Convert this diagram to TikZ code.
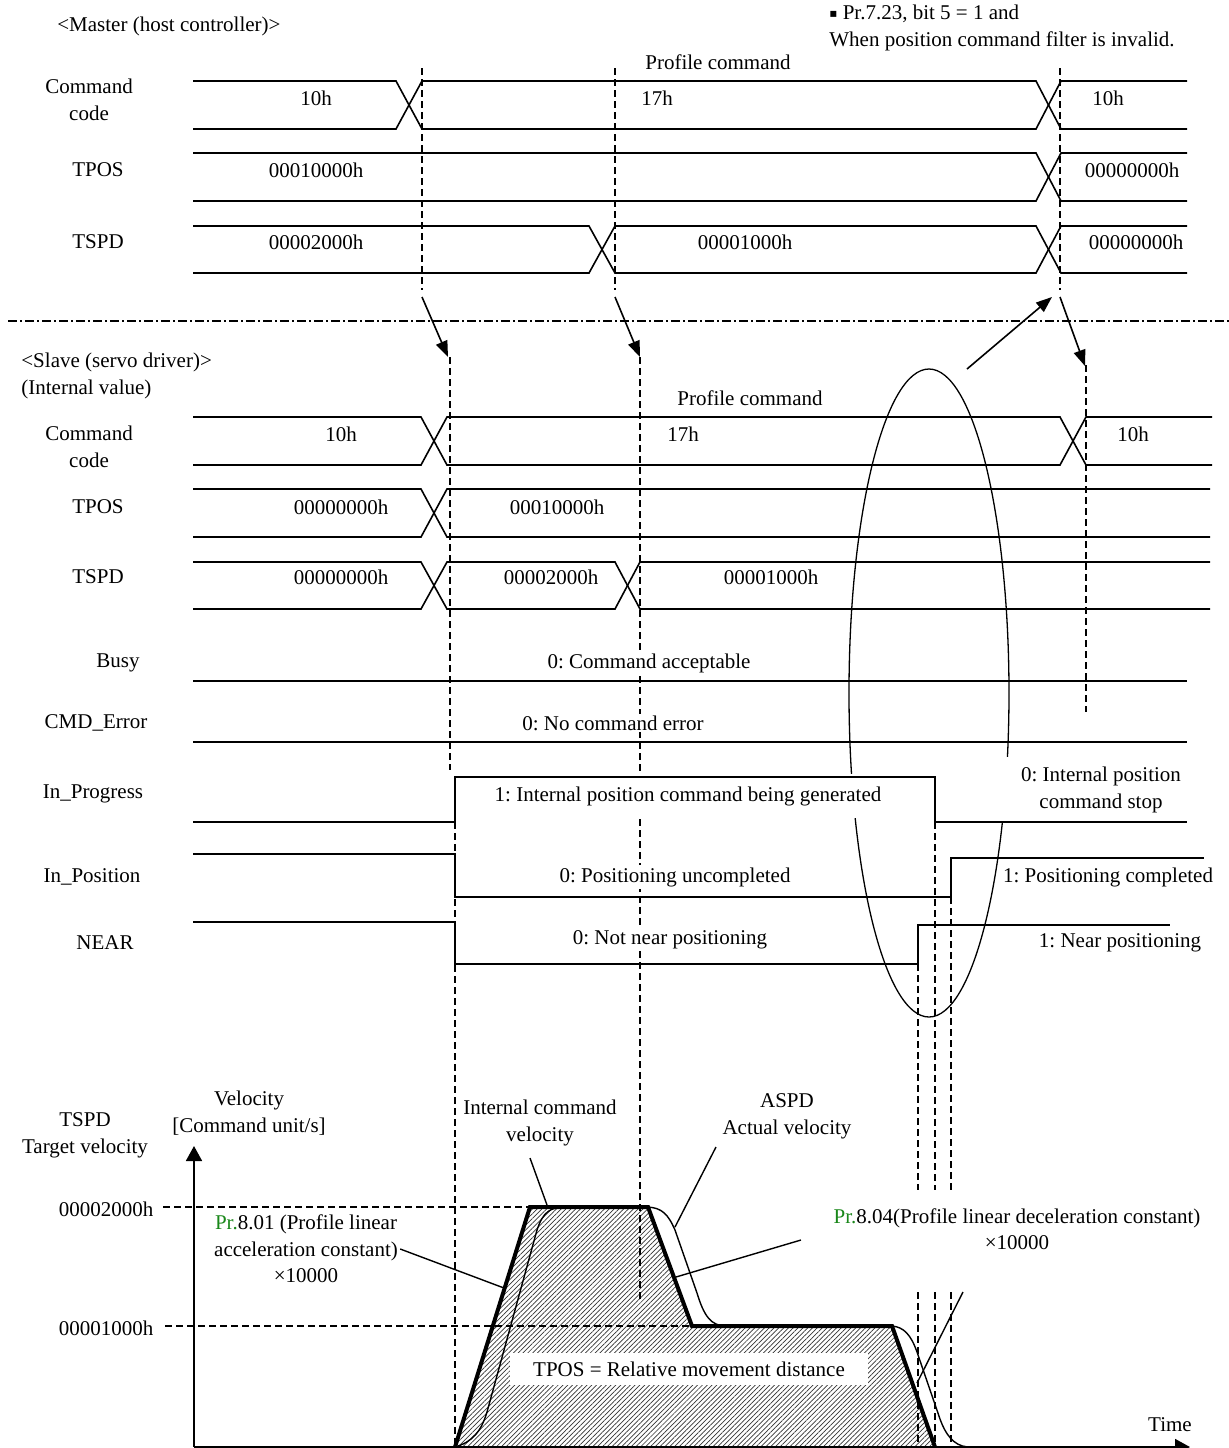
\documentclass[tikz,border=0pt]{standalone}
\usepackage{fontspec}
\setmainfont{Liberation Serif}
\newfontfamily\dejavu{DejaVu Sans}
\usetikzlibrary{arrows.meta,patterns.meta}
\definecolor{prgreen}{RGB}{25,135,25}
\newcommand{\fsz}{\fontsize{10.5}{13.3}\selectfont\frenchspacing}

\begin{document}
\begin{tikzpicture}[x=0.5pt,y=-0.5pt,>={Triangle[length=8pt,width=6pt]},
  every node/.style={font=\fsz,inner sep=1pt},
  sig/.style={line width=0.8pt},
  guide/.style={line width=0.7pt,dash pattern=on 3.5pt off 2pt},
  gap/.style={fill=white},
  lbl/.style={align=center}]
  % picture frame, pixel units (y downwards)
  \useasboundingbox (0,0) rectangle (1229,1448);

  % hatched area under the internal command velocity
  \fill[pattern={Lines[angle=45,distance=1.7pt,line width=0.35pt]},pattern color=black!80]
    (455,1447) -- (530,1207) -- (648,1207) -- (692,1326) -- (892,1326) -- (935,1447) -- cycle;
  \node[fill=white,minimum width=179pt,minimum height=16pt,inner sep=0pt] (tposarea) at (689,1369) {TPOS = Relative movement distance};

  % master / slave separator
  \draw[line width=0.7pt,dash pattern=on 4.5pt off 1.5pt on 1pt off 1.5pt] (8,321) -- (1229,321);

  % timing guides
  \foreach \x in {422,615,1060} \draw[guide] (\x,68) -- (\x,290);
  \draw[guide] (450,357) -- (450,770);
  \draw[guide] (455,822) -- (455,1447);
  \draw[guide] (640,357) -- (640,1300);
  \draw[guide] (1086,365) -- (1086,712);
  \draw[guide] (935,822) -- (935,1190) (935,1292) -- (935,1447);
  \draw[guide] (951,897) -- (951,1190) (951,1292) -- (951,1447);
  \draw[guide] (918,964) -- (918,1190) (918,1292) -- (918,1447);
  \draw[guide] (163,1207) -- (530,1207);
  \draw[guide] (165,1326) -- (692,1326);

  % ellipse round the stop events
  \draw[line width=0.65pt] (929,693) ellipse [x radius=40pt,y radius=162pt];

  % master labels
  \node[anchor=west] (master) at (55,26) {<Master (host controller)>};
  \node[anchor=west,align=left] (note) at (827,28) {\raisebox{1.3pt}{\dejavu\fontsize{6}{7}\selectfont▪} Pr.7.23, bit 5 = 1 and\\When position command filter is invalid.};
  \node[lbl] (mcmd) at (89,100) {Command\\code};
  \node (mtpos) at (98,170) {TPOS};
  \node (mtspd) at (98,242) {TSPD};
  \node (mprof) at (718,62) {Profile command};
  \node (mc10) at (316,98) {10h};
  \node (mc17) at (657,98) {17h};
  \node (mc10b) at (1108,98) {10h};
  \node (mp1) at (316,170) {00010000h};
  \node (mp0) at (1132,170) {00000000h};
  \node (ms2) at (316,242) {00002000h};
  \node (ms1) at (745,242) {00001000h};
  \node (ms0) at (1136,242) {00000000h};

  % slave labels
  \node[anchor=west,align=left] (slave) at (19,376) {<Slave (servo driver)>\\(Internal value)};
  \node[lbl] (scmd) at (89,447) {Command\\code};
  \node (stpos) at (98,507) {TPOS};
  \node (stspd) at (98,577) {TSPD};
  \node (sprof) at (750,398) {Profile command};
  \node (sc10) at (341,434) {10h};
  \node (sc17) at (683,434) {17h};
  \node (sc10b) at (1133,434) {10h};
  \node (sp0) at (341,507) {00000000h};
  \node (sp1) at (557,507) {00010000h};
  \node (ss0) at (341,577) {00000000h};
  \node (ss2) at (551,577) {00002000h};
  \node (ss1) at (771,577) {00001000h};

  % status bits
  \node (busy) at (118,663) {Busy};
  \node[gap] (busyv) at (649,663) {0: Command acceptable};
  \node (cerr) at (96,723) {CMD\_Error};
  \node[gap] (cerrv) at (613,723) {0: No command error};
  \node (inprog) at (93,794) {In\_Progress};
  \node[gap,inner xsep=2pt,inner ysep=6pt] (inprog1) at (688,796) {1: Internal position command being generated};
  \node[gap,lbl,inner xsep=10pt,inner ysep=5pt] (inprog0) at (1101,790) {0: Internal position\\command stop};
  \node (inpos) at (92,877) {In\_Position};
  \node[gap] (inpos0) at (675,877) {0: Positioning uncompleted};
  \node (inpos1) at (1108,877) {1: Positioning completed};
  \node (near) at (105,943) {NEAR};
  \node[gap] (near0) at (670,940) {0: Not near positioning};
  \node (near1) at (1120,943) {1: Near positioning};

  % master buses
  \draw[sig] (193,81) -- (396,81) -- (422,129) -- (1036,129) -- (1061,81) -- (1187,81);
  \draw[sig] (193,129) -- (396,129) -- (422,81) -- (1036,81) -- (1061,129) -- (1187,129);
  \draw[sig] (193,153) -- (1036,153) -- (1061,201) -- (1187,201);
  \draw[sig] (193,201) -- (1036,201) -- (1061,153) -- (1187,153);
  \draw[sig] (193,226) -- (589,226) -- (615,273) -- (1036,273) -- (1061,226) -- (1187,226);
  \draw[sig] (193,273) -- (589,273) -- (615,226) -- (1036,226) -- (1061,273) -- (1187,273);

  % slave buses
  \draw[sig] (193,417) -- (421,417) -- (447,465) -- (1060,465) -- (1086,417) -- (1212,417);
  \draw[sig] (193,465) -- (421,465) -- (447,417) -- (1060,417) -- (1086,465) -- (1212,465);
  \draw[sig] (193,489) -- (421,489) -- (447,537) -- (1210,537);
  \draw[sig] (193,537) -- (421,537) -- (447,489) -- (1210,489);
  \draw[sig] (193,562) -- (421,562) -- (447,609) -- (615,609) -- (640,562) -- (1210,562);
  \draw[sig] (193,609) -- (421,609) -- (447,562) -- (615,562) -- (640,609) -- (1210,609);

  % status levels
  \draw[sig] (193,681) -- (1187,681);
  \draw[sig] (193,742) -- (1187,742);
  \draw[sig] (193,822) -- (455,822) -- (455,777) -- (935,777) -- (935,822) -- (1187,822);
  \draw[sig] (193,854) -- (455,854) -- (455,897) -- (951,897) -- (951,858) -- (1204,858);
  \draw[sig] (193,922) -- (455,922) -- (455,964) -- (918,964) -- (918,925) -- (1170,925);

  % master -> slave handover
  \coordinate (m1) at (422,297); \coordinate (s1) at (448,357);
  \coordinate (m2) at (615,297); \coordinate (s2) at (640,357);
  \coordinate (m3) at (1060,297); \coordinate (s3) at (1085,366);
  \coordinate (stoptop) at (967,369); \coordinate (mback) at (1052,297);
  \draw[->,line width=0.8pt] (m1) -- (s1);
  \draw[->,line width=0.8pt] (m2) -- (s2);
  \draw[->,line width=0.8pt] (m3) -- (s3);
  \draw[->,line width=0.8pt] (stoptop) -- (mback);

  % velocity axes
  \coordinate (origin) at (194,1447);
  \coordinate (vtop) at (194,1146);
  \coordinate (tend) at (1190,1447);
  \draw[line width=0.9pt,-{Triangle[length=7.5pt,width=8pt]}] (origin) -- (vtop);
  \draw[line width=0.9pt,-{Triangle[length=7.5pt,width=8pt]}] (origin) -- (tend);
  \node[lbl] (tspdlbl) at (85,1135) {TSPD\\Target velocity};
  \node[lbl] (vlbl) at (249,1113) {Velocity\\{[Command unit/s]}};
  \node (v2000) at (106,1209) {00002000h};
  \node (v1000) at (106,1328) {00001000h};
  \node (time) at (1170,1425) {Time};

  % actual velocity (thin) and internal command velocity (thick)
  \draw[line width=0.7pt] (455,1447) .. controls (472,1442) and (481,1432) .. (487,1412) -- (537,1230)
    .. controls (543,1212) and (550,1207) .. (566,1207) -- (648,1207)
    .. controls (662,1208) and (668,1214) .. (675,1230) -- (697,1293)
    .. controls (704,1316) and (711,1326) .. (726,1326) -- (892,1326)
    .. controls (904,1327) and (911,1335) .. (917,1352) -- (940,1419)
    .. controls (945,1433) and (953,1446) .. (968,1447);
  \draw[line width=2pt,line join=miter] (455,1447) -- (530,1207) -- (648,1207) -- (692,1326) -- (892,1326) -- (935,1447);

  % annotations
  \node[lbl] (icv) at (540,1123) {Internal command\\velocity};
  \node[lbl] (aspd) at (787,1116) {ASPD\\Actual velocity};
  \node[lbl] (pr801) at (306,1249) {\textcolor{prgreen}{Pr.}8.01 (Profile linear\\acceleration constant)\\×10000};
  \node[lbl] (pr804) at (1017,1229) {\textcolor{prgreen}{Pr.}8.04(Profile linear deceleration constant)\\×10000};
  \coordinate (icvft) at (530,1158); \coordinate (icvpt) at (547,1205);
  \coordinate (aspdft) at (716,1147); \coordinate (aspdpt) at (675,1227);
  \coordinate (accpt) at (504,1288);
  \coordinate (decft) at (801,1240); \coordinate (decpt) at (676,1277);
  \coordinate (decft2) at (963,1292); \coordinate (decpt2) at (917,1383);
  \draw[line width=0.7pt] (icvft) -- (icvpt);
  \draw[line width=0.7pt] (aspdft) -- (aspdpt);
  \draw[line width=0.7pt] (pr801.east) -- (accpt);
  \draw[line width=0.7pt] (decft) -- (decpt);
  \draw[line width=0.7pt] (decft2) -- (decpt2);
\end{tikzpicture}
\end{document}
